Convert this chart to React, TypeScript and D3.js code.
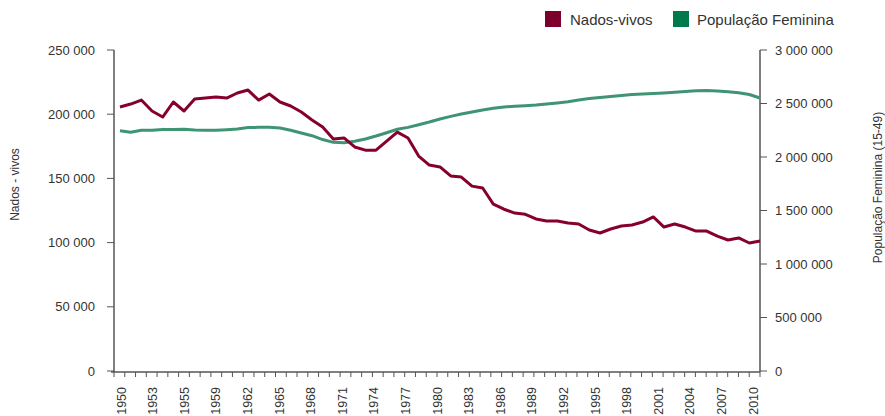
import React from 'react';
import * as d3 from 'd3';

const years = d3.range(1950, 2011);

// Nados-vivos (left axis)
const births = [
  205600, 207900, 211000, 202500, 197800, 209500, 202500, 211800, 212600, 213400,
  212600, 216500, 218800, 211000, 215700, 209500, 206400, 201700, 195500, 190000,
  180700, 181500, 174500, 172000, 172000, 179000, 186000, 181500, 167400, 160400,
  158900, 151900, 151000, 144000, 142500, 130000, 126000, 123000, 122000, 118400,
  116800, 116800, 115300, 114500, 109800, 107500, 110600, 112900, 113700, 116000,
  120000, 112100, 114500, 112100, 109000, 109000, 105000, 102000, 103600, 99700,
  101200,
];

// População Feminina 15-49 (right axis)
const women = [
  2245000, 2232000, 2250000, 2251000, 2256000, 2256000, 2260000, 2252000, 2250000, 2250000,
  2255000, 2262000, 2276000, 2277000, 2277000, 2271000, 2250000, 2224000, 2199000, 2163000,
  2137000, 2134000, 2147000, 2168000, 2196000, 2227000, 2259000, 2277000, 2302000, 2327000,
  2355000, 2380000, 2402000, 2420000, 2439000, 2455000, 2467000, 2474000, 2480000, 2486000,
  2495000, 2505000, 2517000, 2533000, 2546000, 2556000, 2565000, 2574000, 2584000, 2589000,
  2594000, 2599000, 2606000, 2613000, 2619000, 2621000, 2617000, 2610000, 2600000, 2584000,
  2551000,
];

// labels shown under every third tick (as printed in the source)
const tickLabels = [
  '1950', '1953', '1955', '1959', '1962', '1965', '1968', '1971', '1974', '1977', '1980',
  '1983', '1986', '1989', '1992', '1995', '1998', '2001', '2004', '2007', '2010',
];

const leftTicks = [0, 50000, 100000, 150000, 200000, 250000];
const rightTicks = [0, 500000, 1000000, 1500000, 2000000, 2500000, 3000000];

const RED = '#7b002c';
const GREEN = '#007a4c';
const RED_LINE = '#86002f';
const GREEN_LINE = '#3f9473';
const TXT = '#333';
const AX = '#555';

const locale = d3.formatLocale({ decimal: ',', thousands: '\u00a0', grouping: [3], currency: ['', ''] });
const fmt = locale.format(',d');

export default function App() {
  const left = 114, right = 760, top = 50, bottom = 371;

  const xLine = d3.scalePoint<number>().domain(years).range([120, right]);
  const xTick = d3.scalePoint<number>().domain(years).range([left, right]);
  const xLab = d3.scalePoint<number>().domain(d3.range(tickLabels.length)).range([125.5, 757.5]);
  const yL = d3.scaleLinear().domain([0, 250000]).range([bottom, top]);
  const yR = d3.scaleLinear().domain([0, 3000000]).range([bottom, top]);

  const lineL = d3.line<number>().x((_, i) => xLine(years[i])!).y(d => yL(d));
  const lineR = d3.line<number>().x((_, i) => xLine(years[i])!).y(d => yR(d));

  const font = '"Liberation Sans", Arial, sans-serif';

  return (
    <svg width={885} height={416} style={{ position: 'absolute', left: 0, top: 0 }} fontFamily={font}>
      {/* legend */}
      <rect x={545} y={11} width={16} height={16} fill={RED} />
      <text x={570} y={24.5} fontSize={15} fill={TXT}>Nados-vivos</text>
      <rect x={673} y={11} width={16} height={16} fill={GREEN} />
      <text x={697} y={24.5} fontSize={15} fill={TXT}>População Feminina</text>

      {/* left axis */}
      <line x1={left} x2={left} y1={top} y2={bottom + 1} stroke={AX} strokeWidth={1.5} />
      {leftTicks.map(t => (
        <g key={t}>
          <line x1={left - 7} x2={left} y1={yL(t)} y2={yL(t)} stroke={AX} />
          <text x={95} y={yL(t)} dy="0.35em" textAnchor="end" fontSize={13} fill={TXT}>{fmt(t)}</text>
        </g>
      ))}
      <text transform={`translate(19,${(top + bottom) / 2 - 26}) rotate(-90)`} textAnchor="middle" fontSize={12} fill={TXT}>Nados - vivos</text>

      {/* right axis */}
      <line x1={right} x2={right} y1={top} y2={bottom + 1} stroke={AX} strokeWidth={1.5} />
      {rightTicks.map(t => (
        <g key={t}>
          <line x1={right} x2={right + 7} y1={yR(t)} y2={yR(t)} stroke={AX} />
          <text x={775} y={yR(t)} dy="0.35em" fontSize={13} fill={TXT}>{fmt(t)}</text>
        </g>
      ))}
      <text transform={`translate(882,${(top + bottom) / 2 - 23}) rotate(-90)`} textAnchor="middle" fontSize={12} fill={TXT}>População Feminina (15-49)</text>

      {/* x axis */}
      <line x1={left - 3} x2={right} y1={bottom + 1} y2={bottom + 1} stroke={AX} strokeWidth={1.5} />
      {years.map(y => (
        <line key={y} x1={xTick(y)} x2={xTick(y)} y1={bottom + 1} y2={bottom + 6} stroke={AX} />
      ))}
      {tickLabels.map((lab, i) => (
        <text key={i} transform={`translate(${xLab(i)},${bottom + 16}) rotate(-90)`} textAnchor="end" fontSize={12.5} fill={TXT}>{lab}</text>
      ))}

      {/* series */}
      <path d={lineR(women) ?? ''} fill="none" stroke={GREEN_LINE} strokeWidth={3} strokeLinejoin="round" />
      <path d={lineL(births) ?? ''} fill="none" stroke={RED_LINE} strokeWidth={3} strokeLinejoin="round" />
    </svg>
  );
}
